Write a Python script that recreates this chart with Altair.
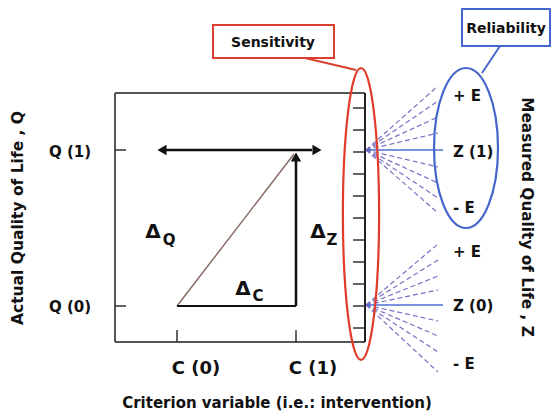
import altair as alt
import pandas as pd

# ---- diagram content (image-pixel coordinates) ----
frame_x1 = [115, 115, 115]
frame_y1 = [93, 93, 342]
frame_x2 = [365, 115, 365]
frame_y2 = [93, 342, 342]

ruler_x = 365
ruler_top, ruler_bottom = 93, 342
ruler_ticks = [108, 130, 152, 174, 196, 218, 240, 262, 284, 306, 328]

q_labels = ["Q (1)", "Q (0)"]
q_levels = [150, 306]
c_labels = ["C (0)", "C (1)"]
c_levels = [177, 296]

fan_upper_ends = [86, 101, 117, 133, 167, 183, 198, 213]
fan_lower_ends = [244, 260, 276, 290, 321, 336, 352, 372]

e_labels = ["+ E", "Z (1)", "- E", "+ E", "Z (0)", "- E"]
e_y = [96, 152, 208, 252, 306, 364]

FONT = "DejaVu Sans"

# ---- build tables ----
xs = alt.Scale(domain=[8, 551])
ys = alt.Scale(domain=[8, 411], reverse=True)

def seg_df(x1, y1, x2, y2):
    return pd.DataFrame({"x": x1, "y": y1, "x2": x2, "y2": y2})

def rules(df, color, width, dash=None):
    kw = dict(color=color, strokeWidth=width)
    if dash:
        kw["strokeDash"] = dash
    return alt.Chart(df).mark_rule(**kw).encode(
        x=alt.X("x:Q", scale=xs, axis=None),
        y=alt.Y("y:Q", scale=ys, axis=None),
        x2="x2:Q", y2="y2:Q")

frame = rules(seg_df(frame_x1, frame_y1, frame_x2, frame_y2), "#555555", 2)
ruler = rules(seg_df([ruler_x], [ruler_top], [ruler_x], [ruler_bottom]), "#222222", 2)
rticks = rules(seg_df([353] * len(ruler_ticks), ruler_ticks, [365] * len(ruler_ticks), ruler_ticks), "#333333", 1.5)
lticks = rules(seg_df([115, 115], q_levels, [126, 126], q_levels), "#333333", 1.5)
bticks = rules(seg_df(c_levels, [342, 342], c_levels, [330, 330]), "#333333", 1.5)

harrow = rules(seg_df([165], [150], [312], [150]), "#111111", 2.5)
varrow = rules(seg_df([296], [306], [296], [160]), "#111111", 2.5)
base = rules(seg_df([177], [306], [296], [306]), "#111111", 2)
diag = rules(seg_df([177], [306], [294], [154]), "#8a6d66", 1.5)

heads = alt.Chart(pd.DataFrame({
    "x": [162, 317, 296], "y": [150, 150, 157],
    "s": ["triangle-left", "triangle-right", "triangle-up"]})).mark_point(
    filled=True, color="#111111", size=110, opacity=1).encode(
    x=alt.X("x:Q", scale=xs, axis=None), y=alt.Y("y:Q", scale=ys, axis=None),
    shape=alt.Shape("s:N", scale=None, legend=None))

blue_solid = rules(seg_df([367, 367], [150, 305], [443, 443], [150, 305]), "#4a6fd0", 1.3)
fan_up = rules(seg_df([366] * 8, [150] * 8, [438] * 8, fan_upper_ends), "#7a70c4", 1.2, [5, 3])
fan_lo = rules(seg_df([366] * 8, [305] * 8, [438] * 8, fan_lower_ends), "#7a70c4", 1.2, [5, 3])

# ellipses via custom symbol path
red_ell = alt.Chart(pd.DataFrame({"x": [361], "y": [214]})).mark_point(
    shape="M0,-1 A0.124,1 0 1,1 0,1 A0.124,1 0 1,1 0,-1",
    size=292 * 292, color="#e23b2a", strokeWidth=2.2, filled=False, opacity=1).encode(
    x=alt.X("x:Q", scale=xs, axis=None), y=alt.Y("y:Q", scale=ys, axis=None))
blue_ell = alt.Chart(pd.DataFrame({"x": [466], "y": [148]})).mark_point(
    shape="M0,-1 A0.40,1 0 1,1 0,1 A0.40,1 0 1,1 0,-1",
    size=160 * 160, color="#4466cc", strokeWidth=2.2, filled=False, opacity=1).encode(
    x=alt.X("x:Q", scale=xs, axis=None), y=alt.Y("y:Q", scale=ys, axis=None))

# callout boxes
boxes = alt.Chart(pd.DataFrame({
    "x": [213, 462], "x2": [334, 550], "y": [25, 9], "y2": [58, 46],
    "c": ["#d9402f", "#4466cc"]})).mark_rect(fill="white", strokeWidth=2).encode(
    x=alt.X("x:Q", scale=xs, axis=None), x2="x2:Q",
    y=alt.Y("y:Q", scale=ys, axis=None), y2="y2:Q",
    stroke=alt.Stroke("c:N", scale=None, legend=None))
ptr_red = rules(seg_df([305], [58], [356], [70]), "#d9402f", 2)
ptr_blue = rules(seg_df([500], [46], [482], [73]), "#4466cc", 2)

def texts(df, size=15, angle=0, weight="bold", color="#111111", align="center"):
    return alt.Chart(df).mark_text(fontSize=size, font=FONT, fontWeight=weight, color=color,
                                   angle=angle, align=align, baseline="middle").encode(
        x=alt.X("x:Q", scale=xs, axis=None), y=alt.Y("y:Q", scale=ys, axis=None), text="t:N")

t_q = texts(pd.DataFrame({"t": q_labels, "x": [70, 70], "y": [152, 307]}), 15)
t_c = texts(pd.DataFrame({"t": c_labels, "x": [196, 313], "y": [369, 369]}), 18)
t_e = texts(pd.DataFrame({"t": e_labels, "x": [453] * 6, "y": e_y}), 15, align="left")
t_box = texts(pd.DataFrame({"t": ["Sensitivity", "Reliability"], "x": [273, 506], "y": [43, 29]}), 14)
t_delta = texts(pd.DataFrame({"t": ["Δ", "Δ", "Δ"], "x": [153, 318, 243], "y": [232, 232, 289]}), 20)
t_sub = texts(pd.DataFrame({"t": ["Q", "Z", "C"], "x": [169, 332, 258], "y": [240, 240, 296]}), 15)
t_bottom = texts(pd.DataFrame({"t": ["Criterion variable (i.e.: intervention)"], "x": [277], "y": [403]}), 15)
t_left = texts(pd.DataFrame({"t": ["Actual Quality of Life , Q"], "x": [18], "y": [218]}), 15.5, angle=270)
t_right = texts(pd.DataFrame({"t": ["Measured Quality of Life , Z"], "x": [527], "y": [217]}), 15.3, angle=90)

chart = alt.layer(
    frame, lticks, bticks, diag, base, varrow, harrow, heads,
    fan_up, fan_lo, blue_solid, red_ell, ruler, rticks, blue_ell,
    ptr_red, ptr_blue, boxes,
    t_q, t_c, t_e, t_box, t_delta, t_sub, t_bottom, t_left, t_right
).properties(
    width=543, height=403, padding=0, autosize=alt.AutoSizeParams(type="none"),
    background="white"
).configure_view(stroke=None)

chart.save("out.html", embed_options={"renderer": "svg", "actions": False})
